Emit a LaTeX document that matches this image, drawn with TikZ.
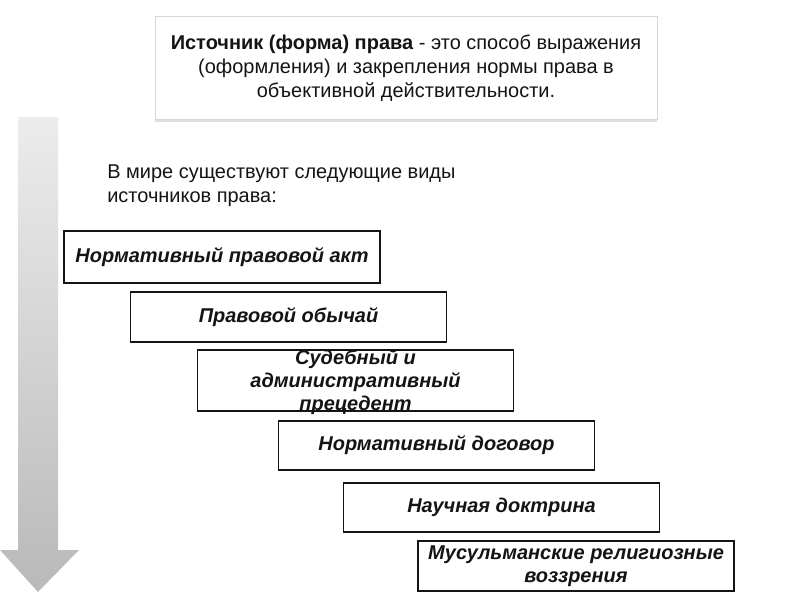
\documentclass[tikz,border=0pt]{standalone}
\usepackage{fontspec}
\setmainfont{Liberation Sans}
\usetikzlibrary{positioning,shadows}
\definecolor{srcink}{RGB}{20,20,20}
\definecolor{arrowtop}{RGB}{236,236,236}
\definecolor{arrowbot}{RGB}{185,185,185}
\definecolor{headline}{RGB}{215,215,215}

\begin{document}
\begin{tikzpicture}[
  x=0.025cm, y=-0.025cm,
  srcbox/.style={draw=srcink, line width=1.3pt, fill=white, minimum width=7.9cm, inner sep=0pt, align=center, text=srcink, font=\fontsize{14.2}{16.6}\selectfont\bfseries\itshape},
  srctext/.style={inner sep=0pt, align=center, text=srcink, font=\fontsize{14.2}{16.6}\selectfont\bfseries\itshape},
  headbox/.style={draw=headline, fill=white, minimum width=12.55cm, minimum height=2.575cm, align=center, font=\fontsize{14.2}{17.2}\selectfont, text=srcink, drop shadow={shadow xshift=0pt, shadow yshift=-2pt, opacity=0.25}},
]
\useasboundingbox (0,0) rectangle (800,600);
% arrow down the left side
\shade[top color=arrowtop, bottom color=arrowbot] (18,117) -- (58,117) -- (58,550) -- (79,550) -- (38,592) -- (0,550) -- (18,550) -- cycle;
% definition
\node[headbox] (def) at (406,68) {\textbf{Источник (форма) права} - это способ выражения\\(оформления) и закрепления нормы права в\\объективной действительности.};
\node[anchor=north west, inner sep=0pt, align=left, text=srcink, font=\fontsize{14.2}{17.2}\selectfont] (intro) at (107,164) {В мире существуют следующие виды\\источников права:};
% kinds of sources
\node[srcbox, minimum height=1.3cm] (npa) at (222,257) {Нормативный правовой акт};
\node[srcbox, minimum height=1.25cm] (custom) at (288.5,317) {Правовой обычай};
\node[srcbox, minimum height=1.525cm] (prec) at (355.5,380.5) {};
\node[srctext] (prect) at (355.5,382) {Судебный и\\административный\\прецедент};
\node[srcbox, minimum height=1.225cm] (contract) at (436.5,445.5) {Нормативный договор};
\node[srcbox, minimum height=1.225cm] (doctrine) at (501.5,507.5) {Научная доктрина};
\node[srcbox, minimum height=1.25cm] (islam) at (576,566) {Мусульманские религиозные\\воззрения};
\end{tikzpicture}
\end{document}
